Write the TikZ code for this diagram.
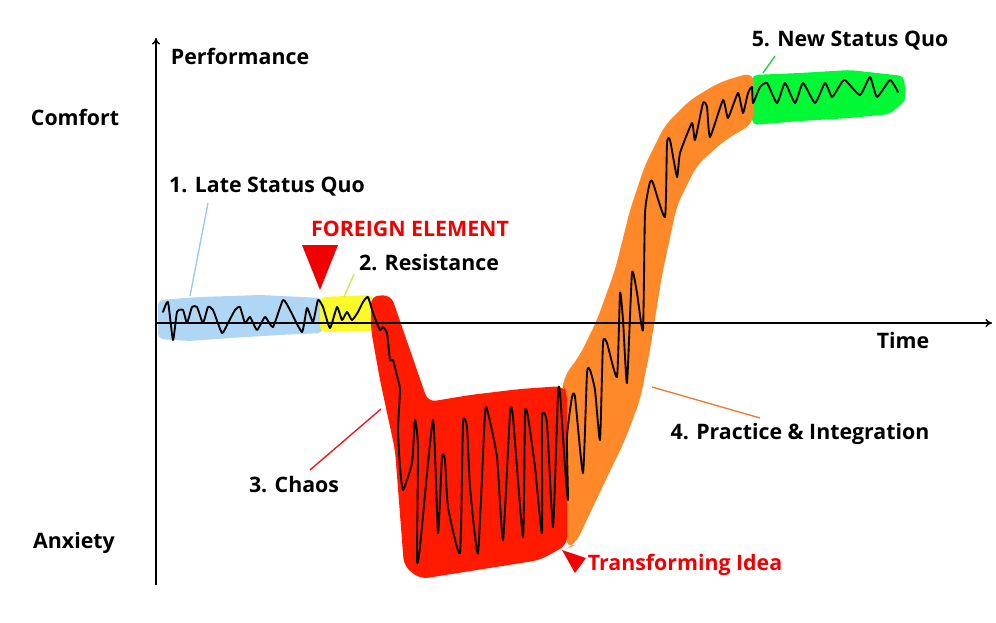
\documentclass[tikz,border=0pt]{standalone}
\usepackage{fontspec}
\setmainfont{Open Sans}
\usetikzlibrary{arrows.meta}
\definecolor{bandblue}{RGB}{176,214,245}
\definecolor{bandyellow}{RGB}{250,250,40}
\definecolor{bandred}{RGB}{255,26,0}
\definecolor{bandorange}{RGB}{255,136,40}
\definecolor{bandgreen}{RGB}{0,248,52}
\definecolor{txtred}{RGB}{240,0,0}
\definecolor{ptblue}{RGB}{150,200,240}
\definecolor{ptyellow}{RGB}{215,228,90}
\definecolor{ptred}{RGB}{235,20,20}
\definecolor{ptorange}{RGB}{240,120,50}
\definecolor{ptgreen}{RGB}{40,200,60}
\tikzset{
  lbl/.style={font=\fontsize{16}{18}\selectfont\bfseries, inner sep=0pt, text=black},
  redlbl/.style={lbl, text=txtred},
  axis/.style={line width=1.1pt, -{To[length=5pt,width=6pt]}},
  band/.style={rounded corners=4pt},
  pointer/.style={line width=1pt},
  signal/.style={line width=1.4pt, line join=round, line cap=round},
}
\begin{document}
\begin{tikzpicture}[x=0.75pt,y=-0.75pt]
\useasboundingbox (0,0) rectangle (996,622);
% bands
\fill[bandblue, band] (158,300) -- (200,297) -- (260,295) -- (323,298) -- (323,333) -- (280,335) -- (230,338) -- (190,341) -- (158,339) -- cycle;
\fill[bandyellow, band] (320,297) -- (373,295) -- (375,331) -- (320,332) -- cycle;
\fill[bandgreen, band] (752,75) -- (800,73) -- (850,70) -- (904,76) -- (906,100) -- (890,114) -- (850,118) -- (800,121) -- (752,125) -- cycle;
\fill[bandorange, rounded corners=8pt] (754,72) -- (720,82) -- (690,100) -- (665,125) -- (645,165) -- (630,210) -- (615,270) -- (597,320) -- (580,355) -- (563,378) -- (562,400) -- (566,549) -- (575,545) -- (600,492) -- (625,440) -- (640,400) -- (650,350) -- (662,275) -- (677,205) -- (697,165) -- (725,140) -- (754,123) -- cycle;
\fill[bandred, rounded corners=6pt] (371,296) -- (391,295) -- (428,402) -- (470,395) -- (520,389) -- (563,386) -- (567,392) -- (567,545) -- (540,560) -- (420,579) -- (404,566) -- (395,450) -- (380,380) -- (371,330) -- cycle;
% axes
\coordinate (origin) at (156,323);
\coordinate (ytop) at (156,38);
\coordinate (ybot) at (156,585);
\coordinate (xend) at (992,323);
\draw[axis] (ybot) -- (ytop);
\draw[axis] (origin) -- (xend);
% signal
\draw[signal] plot[smooth, tension=0.3] coordinates {
(163,312) (168,302) (173,340) (177,312) (183,310) (187,323) (192,307) (197,307) (203,323) (208,307) (213,310) (222,333) (228,323) (235,310) (240,307) (245,323) (250,317) (257,330) (265,317) (273,327) (283,300) (290,310) (302,332) (307,308) (313,322) (318,300) (323,307) (330,328) (337,307) (342,320) (347,312) (352,320) (358,312) (363,302) (368,297) (373,313) (380,330) (383,327) (387,333) (390,360) (393,360) (398,380) (400,390) (398,430) (400,467) (403,490) (412,463) (415,420) (418,447) (417,560) (420,547) (433,420) (438,533) (442,457) (445,460) (448,507) (460,553) (463,423) (467,427) (470,487) (478,553) (485,413) (488,413) (497,457) (503,540) (510,413) (513,417) (523,537) (525,413) (528,417) (535,467) (542,533) (542,417) (547,423) (553,527) (558,393) (560,393) (565,467) (568,500) (567,437) (572,397) (575,397) (583,473) (587,373) (590,370) (595,390) (600,440) (603,343) (607,343) (617,377) (620,293) (623,320) (627,383) (632,273) (637,293) (643,330) (645,213) (650,182) (653,183) (665,217) (667,143) (670,140) (677,177) (680,153) (692,123) (695,140) (703,103) (707,107) (710,137) (723,100) (728,118) (738,93) (743,113) (748,93) (752,87) (753,103) (760,87) (767,83) (777,103) (785,83) (795,103) (803,83) (815,103) (825,83) (832,97) (840,85) (845,80) (860,95) (870,77) (877,97) (890,80) (898,92)};
% axis labels
\node[lbl] (perf) at (240,56) {Performance};
\node[lbl] (comfort) at (75,117) {Comfort};
\node[lbl] (anxiety) at (74,543) {Anxiety};
\node[lbl] (time) at (903,340) {Time};
% phase labels
\node[lbl] (late) at (267,187) {1. Late Status Quo};
\node[redlbl] (foreign) at (410,229) {FOREIGN ELEMENT};
\node[lbl] (resist) at (429,263) {2. Resistance};
\node[lbl] (chaos) at (294,485) {3. Chaos};
\node[lbl] (practice) at (800,434) {4. Practice \& Integration};
\node[lbl] (newsq) at (850,41) {5. New Status Quo};
\node[redlbl] (transf) at (685,565) {Transforming Idea};
% pointers
\coordinate (pblueA) at (208,203); \coordinate (pblueB) at (190,296);
\coordinate (pyelA) at (354,274); \coordinate (pyelB) at (344,297);
\coordinate (predA) at (310,470); \coordinate (predB) at (381,409);
\coordinate (porA) at (652,387); \coordinate (porB) at (760,418);
\coordinate (pgrA) at (775,56); \coordinate (pgrB) at (763,73);
\draw[pointer, ptblue] (pblueA) -- (pblueB);
\draw[pointer, ptyellow] (pyelA) -- (pyelB);
\draw[pointer, ptred] (predA) -- (predB);
\draw[pointer, ptorange] (porA) -- (porB);
\draw[pointer, ptgreen] (pgrA) -- (pgrB);
% triangles
\fill[txtred] (302,245) -- (338,245) -- (320,290) -- cycle;
\fill[txtred] (562,550) -- (586,558) -- (575,573) -- cycle;
\end{tikzpicture}
\end{document}
